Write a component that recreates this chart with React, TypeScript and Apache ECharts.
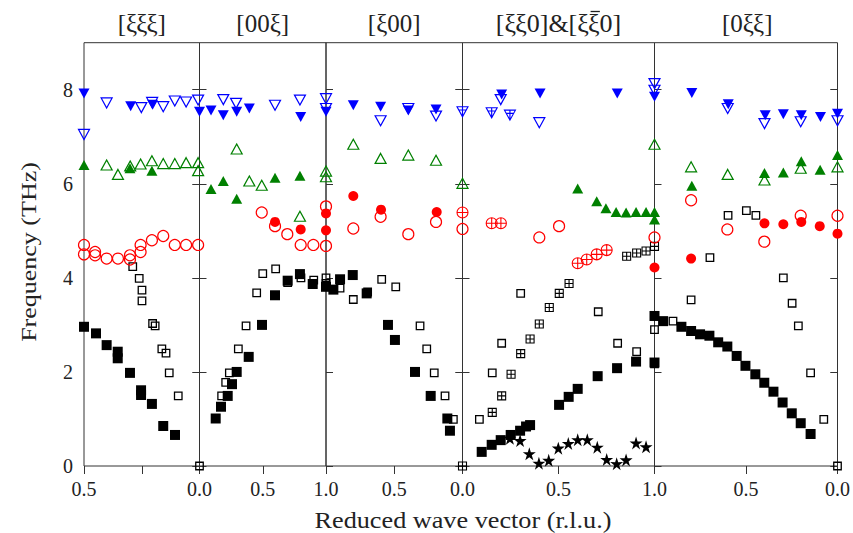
import React, { useEffect, useRef } from "react";
import * as echarts from "echarts";

// ---------- data: [panel (1..5), reduced wave vector (r.l.u.), frequency (THz)] ----------
type Pt = [number, number, number];

const PANEL_TITLES = ["[ξξξ]", "[00ξ]", "[ξ00]", "[ξξ0]&[ξξ0]", "[0ξξ]"];
const X_MAX = [0.5, 1, 1, 1, 1];
const X_INVERSE = [true, false, true, false, true];
const X_LABELS_SHOWN: number[][] = [[0.5, 0], [0.5, 1], [0.5, 0], [0.5, 1], [0.5, 0]];
const Y_TICKS = [0, 2, 4, 6, 8];

const filledSquares: Pt[] = [
  [1, 0.5, 2.96], [1, 0.448, 2.82], [1, 0.402, 2.57], [1, 0.354, 2.43], [1, 0.354, 2.29], [1, 0.301, 1.98],
  [1, 0.253, 1.61], [1, 0.253, 1.51], [1, 0.206, 1.32], [1, 0.157, 0.85], [1, 0.106, 0.66],
  [2, 0.128, 1.01], [2, 0.17, 1.26], [2, 0.223, 1.49], [2, 0.257, 1.74], [2, 0.294, 2.0], [2, 0.389, 2.32],
  [2, 0.494, 3.0], [2, 0.597, 3.63], [2, 0.697, 3.94], [2, 0.794, 4.08], [2, 0.895, 3.87], [2, 1.0, 3.81],
  [3, 0.946, 3.75], [3, 0.897, 3.97], [3, 0.804, 4.06], [3, 0.702, 3.67], [3, 0.546, 3.0], [3, 0.495, 2.68],
  [3, 0.348, 2.0], [3, 0.233, 1.49], [3, 0.111, 1.01], [3, 0.092, 0.75],
  [4, 0.1, 0.3], [4, 0.152, 0.45], [4, 0.199, 0.55], [4, 0.251, 0.66], [4, 0.3, 0.75], [4, 0.331, 0.84],
  [4, 0.352, 0.87], [4, 0.503, 1.3], [4, 0.553, 1.47], [4, 0.6, 1.64], [4, 0.704, 1.91], [4, 0.805, 2.08],
  [4, 0.904, 2.22], [4, 1.0, 3.19], [4, 1.0, 2.2],
  [5, 0.953, 3.08], [5, 0.853, 2.96], [5, 0.8, 2.87], [5, 0.751, 2.8], [5, 0.7, 2.77], [5, 0.652, 2.63],
  [5, 0.602, 2.54], [5, 0.551, 2.34], [5, 0.503, 2.13], [5, 0.449, 1.95], [5, 0.4, 1.77], [5, 0.35, 1.58],
  [5, 0.3, 1.35], [5, 0.25, 1.12], [5, 0.201, 0.91], [5, 0.147, 0.68],
];

const openSquares: Pt[] = [
  [1, 0.289, 4.24], [1, 0.261, 3.99], [1, 0.249, 3.74], [1, 0.249, 3.51], [1, 0.203, 3.03], [1, 0.192, 2.98],
  [1, 0.163, 2.49], [1, 0.145, 2.4], [1, 0.131, 1.98], [1, 0.092, 1.49], [1, 0.0, 0.0],
  [2, 0.175, 1.49], [2, 0.207, 1.78], [2, 0.236, 1.98], [2, 0.307, 2.49], [2, 0.368, 2.98], [2, 0.452, 3.68],
  [2, 0.5, 4.09], [2, 0.602, 4.19], [2, 0.697, 3.9], [2, 0.802, 4.0], [2, 0.903, 3.95], [2, 1.0, 4.0], [2, 1.0, 3.88],
  [3, 0.897, 3.78], [3, 0.8, 3.54], [3, 0.695, 3.7], [3, 0.592, 3.97], [3, 0.489, 3.81], [3, 0.311, 2.98],
  [3, 0.262, 2.49], [3, 0.207, 1.98], [3, 0.128, 1.49], [3, 0.067, 0.99],
  [4, 0.088, 0.99], [4, 0.155, 1.98], [4, 0.204, 2.61], [4, 0.303, 3.67], [4, 0.707, 3.28], [4, 0.808, 2.61],
  [4, 0.907, 2.43], [4, 1.0, 2.9], [4, 1.0, 2.17],
  [5, 0.899, 3.08], [5, 0.8, 3.53], [5, 0.697, 4.43], [5, 0.598, 5.33], [5, 0.498, 5.43], [5, 0.446, 5.33],
  [5, 0.296, 4.0], [5, 0.248, 3.46], [5, 0.214, 2.98], [5, 0.147, 1.98], [5, 0.075, 0.99], [5, 0.0, 0.0],
];

const crossedSquares: Pt[] = [
  [4, 0.0, 0.0], [4, 0.155, 1.14], [4, 0.204, 1.49], [4, 0.253, 1.95], [4, 0.303, 2.39], [4, 0.352, 2.7],
  [4, 0.4, 3.02], [4, 0.452, 3.37], [4, 0.504, 3.67], [4, 0.555, 3.88], [4, 0.855, 4.46], [4, 0.907, 4.53],
  [4, 0.956, 4.57], [4, 1.0, 4.67],
];

const filledCircles: Pt[] = [
  [2, 0.597, 5.19], [2, 0.8, 5.03], [2, 1.0, 5.37], [2, 1.0, 5.01],
  [3, 0.8, 5.74], [3, 0.597, 5.45], [3, 0.189, 5.4],
  [4, 1.0, 4.22],
  [5, 0.8, 4.41], [5, 0.399, 5.16], [5, 0.296, 5.14], [5, 0.198, 5.19], [5, 0.097, 5.1], [5, 0.0, 4.94],
];

const openCircles: Pt[] = [
  [1, 0.5, 4.7], [1, 0.5, 4.5], [1, 0.452, 4.55], [1, 0.452, 4.48], [1, 0.402, 4.41], [1, 0.353, 4.41],
  [1, 0.301, 4.48], [1, 0.301, 4.39], [1, 0.255, 4.7], [1, 0.255, 4.55], [1, 0.206, 4.8], [1, 0.157, 4.89],
  [1, 0.107, 4.7], [1, 0.058, 4.7], [1, 0.006, 4.7],
  [2, 0.492, 5.39], [2, 0.597, 5.1], [2, 0.694, 4.93], [2, 0.8, 4.7], [2, 0.9, 4.7], [2, 1.0, 4.68], [2, 1.0, 5.52],
  [3, 0.8, 5.05], [3, 0.6, 5.3], [3, 0.397, 4.93], [3, 0.194, 5.19], [3, 0.0, 5.04],
  [4, 0.4, 4.86], [4, 0.503, 5.1], [4, 1.0, 4.86],
  [5, 0.8, 5.65], [5, 0.602, 5.03], [5, 0.4, 4.77], [5, 0.201, 5.32], [5, 0.0, 5.32],
];

const crossedCircles: Pt[] = [
  [4, 0.0, 5.39], [4, 0.152, 5.16], [4, 0.2, 5.16], [4, 0.6, 4.31], [4, 0.647, 4.39], [4, 0.699, 4.5], [4, 0.751, 4.59],
];

const filledUpTriangles: Pt[] = [
  [1, 0.5, 6.4], [1, 0.301, 6.33], [1, 0.206, 6.28],
  [2, 0.091, 5.89], [2, 0.188, 6.06], [2, 0.294, 5.68], [2, 0.597, 6.13], [2, 0.794, 6.17],
  [4, 0.6, 5.9], [4, 0.699, 5.63], [4, 0.747, 5.48], [4, 0.8, 5.4], [4, 0.852, 5.39], [4, 0.904, 5.4],
  [4, 0.956, 5.4], [4, 1.0, 5.4], [4, 1.0, 5.24],
  [5, 0.796, 5.96], [5, 0.399, 6.23], [5, 0.296, 6.24], [5, 0.198, 6.48], [5, 0.095, 6.3], [5, 0.0, 6.61],
];

const openUpTriangles: Pt[] = [
  [1, 0.402, 6.4], [1, 0.353, 6.2], [1, 0.3, 6.38], [1, 0.255, 6.42], [1, 0.206, 6.49], [1, 0.157, 6.43],
  [1, 0.107, 6.43], [1, 0.058, 6.45], [1, 0.006, 6.45], [1, 0.006, 6.28],
  [2, 0.294, 6.74], [2, 0.394, 6.06], [2, 0.492, 5.97], [2, 0.794, 5.31], [2, 1.0, 6.27], [2, 1.0, 6.15],
  [3, 0.8, 6.84], [3, 0.6, 6.54], [3, 0.397, 6.61], [3, 0.194, 6.5], [3, 0.0, 6.01],
  [4, 1.0, 6.84],
  [5, 0.8, 6.36], [5, 0.6, 6.2], [5, 0.399, 6.08], [5, 0.201, 6.33], [5, 0.0, 6.36],
];

const filledDownTriangles: Pt[] = [
  [1, 0.5, 7.92], [1, 0.298, 7.65], [1, 0.203, 7.68],
  [2, 0.0, 7.53], [2, 0.091, 7.56], [2, 0.188, 7.46], [2, 0.294, 7.53], [2, 0.394, 7.6], [2, 0.8, 7.42], [2, 1.0, 7.53],
  [3, 0.8, 7.67], [3, 0.6, 7.64], [3, 0.397, 7.56], [3, 0.194, 7.58],
  [4, 0.204, 7.9], [4, 0.404, 7.92], [4, 0.806, 7.92], [4, 1.0, 7.85],
  [5, 0.796, 7.93], [5, 0.597, 7.69], [5, 0.395, 7.46], [5, 0.296, 7.48], [5, 0.198, 7.46], [5, 0.093, 7.42], [5, 0.0, 7.49],
];

const openDownTriangles: Pt[] = [
  [1, 0.5, 7.05], [1, 0.402, 7.72], [1, 0.252, 7.62], [1, 0.205, 7.73], [1, 0.157, 7.64], [1, 0.107, 7.76],
  [1, 0.058, 7.74], [1, 0.006, 7.78],
  [2, 0.188, 7.79], [2, 0.289, 7.71], [2, 0.597, 7.67], [2, 0.794, 7.78], [2, 1.0, 7.81], [2, 1.0, 7.6],
  [3, 0.6, 7.34], [3, 0.397, 7.6], [3, 0.194, 7.44],
  [4, 0.199, 7.79], [4, 0.4, 7.3], [4, 1.0, 8.13], [4, 1.0, 7.99],
  [5, 0.6, 7.6], [5, 0.399, 7.28], [5, 0.201, 7.32], [5, 0.0, 7.34],
];

const crossedDownTriangles: Pt[] = [[4, 0.0, 7.53], [4, 0.152, 7.51], [4, 0.247, 7.46]];

const stars: Pt[] = [
  [4, 0.247, 0.59], [4, 0.3, 0.54], [4, 0.348, 0.26], [4, 0.398, 0.06], [4, 0.449, 0.12], [4, 0.499, 0.38],
  [4, 0.551, 0.48], [4, 0.6, 0.56], [4, 0.65, 0.56], [4, 0.702, 0.4], [4, 0.751, 0.14], [4, 0.803, 0.05],
  [4, 0.852, 0.13], [4, 0.904, 0.49], [4, 0.956, 0.41],
];

// ---------- styling / layout ----------
const FONT = "'Liberation Serif', 'Times New Roman', serif";
const GRID_LEFT = [84, 199.5, 326, 462.5, 654.5];
const GRID_WIDTH = [115.5, 126.5, 136.5, 192, 185.5];
const GRID_TOP = 42.7;
const GRID_HEIGHT = 423.3;
const TITLE_SIZE = [25, 25, 25, 26, 25];

const STAR = "path://M50,0 L61.17,34.63 L97.55,34.55 L68.07,55.87 L79.39,90.45 L50,69 L20.61,90.45 L31.93,55.87 L2.45,34.55 L38.83,34.63 Z";
const XSQ = "path://M0,0 L10,0 L10,10 L0,10 Z M5,0 L5,10 M0,5 L10,5";
const XCI = "path://M0,5 A5,5 0 1 1 10,5 A5,5 0 1 1 0,5 Z M5,0 L5,10 M0,5 L10,5";
const XTD = "path://M0,0 L10,0 L5,8.66 Z M5,0 L5,8.66 M1.6,2.8 L8.4,2.8";

const NONE = "rgba(0,0,0,0)";
const BLUE = "#0000ff";
const GREEN = "#008000";
const RED = "#ff0000";
const BLACK = "#000000";

const MARKERS = [
  { data: openSquares, symbol: "rect", size: 7.5, fill: NONE, stroke: BLACK, bw: 1.3, rot: 0 },
  { data: crossedSquares, symbol: XSQ, size: 8, fill: NONE, stroke: BLACK, bw: 1.1, rot: 0 },
  { data: filledSquares, symbol: "rect", size: 10, fill: BLACK, stroke: BLACK, bw: 0, rot: 0 },
  { data: stars, symbol: STAR, size: 13, fill: BLACK, stroke: BLACK, bw: 0, rot: 0 },
  { data: openCircles, symbol: "circle", size: 11, fill: NONE, stroke: RED, bw: 1.2, rot: 0 },
  { data: crossedCircles, symbol: XCI, size: 11, fill: NONE, stroke: RED, bw: 1.1, rot: 0 },
  { data: filledCircles, symbol: "circle", size: 10, fill: RED, stroke: RED, bw: 0, rot: 0 },
  { data: openUpTriangles, symbol: "triangle", size: [11, 10], fill: NONE, stroke: GREEN, bw: 1.2, rot: 0 },
  { data: filledUpTriangles, symbol: "triangle", size: [11, 10], fill: GREEN, stroke: GREEN, bw: 0, rot: 0 },
  { data: openDownTriangles, symbol: "triangle", size: [11, 10], fill: NONE, stroke: BLUE, bw: 1.2, rot: 180 },
  { data: crossedDownTriangles, symbol: XTD, size: [11, 10], fill: NONE, stroke: BLUE, bw: 1.1, rot: 0 },
  { data: filledDownTriangles, symbol: "triangle", size: [11, 10], fill: BLUE, stroke: BLUE, bw: 0, rot: 180 },
];

function measure(text: string, size: number): number {
  const c = document.createElement("canvas").getContext("2d");
  if (!c) return text.length * size * 0.5;
  c.font = `${size}px ${FONT}`;
  return c.measureText(text).width;
}

function buildOption(): any {
  const grid = GRID_LEFT.map((l, i) => ({
    left: l,
    top: GRID_TOP,
    width: GRID_WIDTH[i],
    height: GRID_HEIGHT,
    show: true,
    borderColor: "#333",
    borderWidth: 1,
    backgroundColor: "transparent",
  }));

  const xAxis = GRID_LEFT.map((_, i) => ({
    type: "value",
    gridIndex: i,
    min: 0,
    max: X_MAX[i],
    interval: X_MAX[i] / 2,
    inverse: X_INVERSE[i],
    axisLine: { show: false },
    splitLine: { show: false },
    axisTick: { show: true, inside: false, length: 8, lineStyle: { color: "#333", width: 1 } },
    axisLabel: {
      show: true,
      margin: 13,
      fontSize: 20,
      fontFamily: FONT,
      color: "#222",
      showMinLabel: true,
      showMaxLabel: true,
      formatter: (v: number) =>
        X_LABELS_SHOWN[i].some((s) => Math.abs(s - v) < 1e-6) ? v.toFixed(1) : "",
    },
  }));

  const yAxis: any[] = [];
  GRID_LEFT.forEach((_, i) => {
    yAxis.push({
      type: "value",
      gridIndex: i,
      position: "left",
      min: 0,
      max: 9,
      interval: 1,
      axisLine: { show: false },
      splitLine: { show: false },
      axisTick: {
        show: true,
        inside: false,
        length: 7,
        customValues: Y_TICKS,
        lineStyle: { color: "#333", width: 1 },
      },
      axisLabel: {
        show: i === 0,
        margin: 11,
        fontSize: 20,
        fontFamily: FONT,
        color: "#222",
        customValues: Y_TICKS,
      },
    });
    yAxis.push({
      type: "value",
      gridIndex: i,
      position: "right",
      min: 0,
      max: 9,
      interval: 1,
      axisLine: { show: false },
      splitLine: { show: false },
      axisTick: {
        show: true,
        inside: i === 4,
        length: 7,
        customValues: Y_TICKS,
        lineStyle: { color: "#333", width: 1 },
      },
      axisLabel: { show: false },
    });
  });

  const series: any[] = [];
  MARKERS.forEach((m) => {
    for (let p = 1; p <= 5; p++) {
      const pts = m.data.filter((d) => d[0] === p).map((d) => [d[1], d[2]]);
      if (!pts.length) continue;
      series.push({
        type: "scatter",
        xAxisIndex: p - 1,
        yAxisIndex: 2 * (p - 1),
        data: pts,
        symbol: m.symbol,
        symbolSize: m.size,
        symbolRotate: m.rot,
        clip: false,
        silent: true,
        itemStyle: {
          color: m.fill,
          borderColor: m.stroke,
          borderWidth: m.bw,
          opacity: 1,
        },
        emphasis: { disabled: true },
      });
    }
  });

  const graphic: any[] = PANEL_TITLES.map((t, i) => ({
    type: "text",
    x: GRID_LEFT[i] + GRID_WIDTH[i] / 2,
    y: 23,
    style: {
      text: t,
      fontFamily: FONT,
      fontSize: TITLE_SIZE[i],
      fill: "#222",
      textAlign: "center",
      textVerticalAlign: "middle",
      align: "center",
      verticalAlign: "middle",
    },
  }));

  // overbar on the second ξ of "[ξξ̄0]" in the fourth title
  {
    const i = 3;
    const fs = TITLE_SIZE[i];
    const t = PANEL_TITLES[i];
    const total = measure(t, fs);
    const start = GRID_LEFT[i] + GRID_WIDTH[i] / 2 - total / 2;
    const before = measure("[ξξ0]&[ξ", fs);
    const xiW = measure("ξ", fs);
    graphic.push({
      type: "line",
      shape: {
        x1: start + before + xiW * 0.15,
        y1: 11.5,
        x2: start + before + xiW * 0.95,
        y2: 11.5,
      },
      style: { stroke: "#222", lineWidth: 1.3 },
    });
  }

  graphic.push({
    type: "text",
    x: 463,
    y: 520,
    scaleX: 1.14,
    style: {
      text: "Reduced wave vector (r.l.u.)",
      fontFamily: FONT,
      fontSize: 23,
      fill: "#222",
      textAlign: "center",
      textVerticalAlign: "middle",
      align: "center",
      verticalAlign: "middle",
    },
  });
  graphic.push({
    type: "text",
    x: 29,
    y: 252,
    rotation: Math.PI / 2,
    scaleX: 1.3,
    style: {
      text: "Frequency (THz)",
      fontFamily: FONT,
      fontSize: 20,
      fill: "#222",
      textAlign: "center",
      textVerticalAlign: "middle",
      align: "center",
      verticalAlign: "middle",
    },
  });

  return {
    animation: false,
    backgroundColor: "#ffffff",
    textStyle: { fontFamily: FONT },
    grid,
    xAxis,
    yAxis,
    series,
    graphic,
  };
}

export default function App() {
  const ref = useRef<HTMLDivElement>(null);
  useEffect(() => {
    if (!ref.current) return;
    const chart = echarts.init(ref.current, undefined, { renderer: "svg" });
    chart.setOption(buildOption());
    return () => chart.dispose();
  }, []);
  return (
    <div
      ref={ref}
      style={{ position: "fixed", left: 0, top: 0, width: 853, height: 533, background: "#fff" }}
    />
  );
}
